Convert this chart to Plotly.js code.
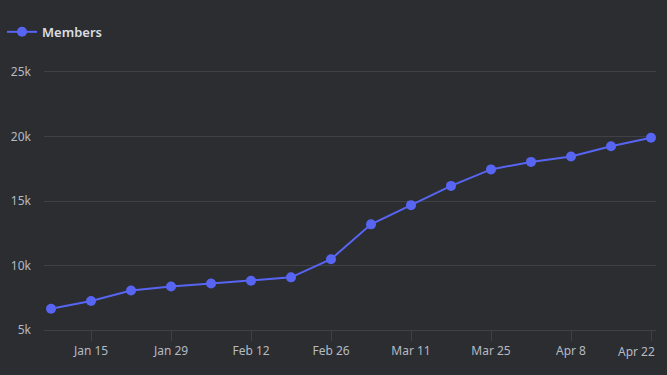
<!DOCTYPE html>
<html>
<head>
<meta charset="utf-8">
<script src="https://cdn.plot.ly/plotly-3.0.1.min.js"></script>
<style>html,body{margin:0;padding:0;background:#2b2d31;}#chart{width:667px;height:375px;}</style>
</head>
<body>
<div id="chart"></div>
<script>
const weeks = ['2024-01-08','2024-01-15','2024-01-22','2024-01-29','2024-02-05','2024-02-12','2024-02-19','2024-02-26','2024-03-04','2024-03-11','2024-03-18','2024-03-25','2024-04-01','2024-04-08','2024-04-15','2024-04-22'];
const members = [6650, 7250, 8060, 8375, 8610, 8820, 9080, 10490, 13190, 14680, 16170, 17450, 18030, 18450, 19250, 19900];
const seriesName = 'Members';
const xTickVals = ['2024-01-15','2024-01-29','2024-02-12','2024-02-26','2024-03-11','2024-03-25','2024-04-08','2024-04-22'];
const xTickText = ['Jan 15','Jan 29','Feb 12','Feb 26','Mar 11','Mar 25','Apr 8','Apr 22'];
const yTickVals = [5000, 10000, 15000, 20000, 25000];
const yTickText = ['5k', '10k', '15k', '20k', '25k'];

// last label is drawn right-aligned at its tick so it stays inside the chart, as in the reference
const lastIdx = xTickText.length - 1;
const xTickShown = xTickText.map((t, i) => i === lastIdx ? '' : t);

const trace = {
  x: weeks, y: members, name: seriesName, type: 'scatter', mode: 'lines+markers',
  line: {color: '#5865f2', width: 2},
  marker: {color: '#5865f2', size: 10}
};
const layout = {
  width: 667, height: 375,
  paper_bgcolor: '#2b2d31', plot_bgcolor: '#2b2d31',
  font: {family: 'Noto Sans, sans-serif', color: '#b5bac1', size: 12},
  margin: {l: 44, r: 11, t: 72, b: 45},
  showlegend: true,
  legend: {xref: 'container', yref: 'container', x: 0.003, y: 0.955, xanchor: 'left', yanchor: 'top',
    orientation: 'h', font: {size: 13, color: '#dbdee1', weight: 600}, bgcolor: 'rgba(0,0,0,0)'},
  xaxis: {
    type: 'date', range: ['2024-01-06 18:30', '2024-04-22 21:00'],
    tickvals: xTickVals, ticktext: xTickShown,
    showgrid: false, zeroline: false, showline: true, mirror: true, linecolor: '#3f4147', linewidth: 1,
    ticks: 'outside', ticklen: 10, tickcolor: '#3f4147', tickwidth: 1,
    tickfont: {size: 12, color: '#b5bac1'}
  },
  yaxis: {
    range: [5000, 25000], tickvals: yTickVals, ticktext: yTickText,
    showgrid: true, gridcolor: '#3f4147', gridwidth: 1, zeroline: false, showline: false,
    ticks: '', ticklabelstandoff: 12, tickfont: {size: 12, color: '#b5bac1'}
  },
  annotations: [{
    x: xTickVals[lastIdx], xref: 'x', y: 0, yref: 'paper', text: xTickText[lastIdx],
    showarrow: false, xanchor: 'right', yanchor: 'top', xshift: 6, yshift: -11,
    font: {size: 12, color: '#b5bac1'}
  }]
};
Plotly.newPlot('chart', [trace], layout, {displayModeBar: false, staticPlot: true});
</script>
</body>
</html>
